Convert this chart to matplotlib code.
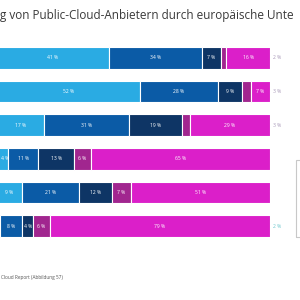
import numpy as np
import matplotlib
matplotlib.use('Agg')
import matplotlib.pyplot as plt
from matplotlib.patches import Rectangle

plt.rcParams['font.family'] = ['Open Sans', 'DejaVu Sans']

# Anteile je Zeile (in %), von links nach rechts
cyan = [41, 52, 17, 4, 9, 1]
blue = [34, 28, 31, 11, 21, 8]
navy = [7, 9, 19, 13, 12, 4]
purple = [2, 3, 3, 6, 7, 6]
magenta = [16, 7, 29, 65, 51, 79]
rest = [2, 3, 3, None, None, 2]   # Wert rechts neben dem Balken

series = [cyan, blue, navy, purple, magenta]
colors = ['#2aabe3', '#0b5ba6', '#0e3565', '#a1268f', '#db1fc9']
rest_colors = ['#a898b8', '#a898b8', '#a898b8', None, None, '#6cc6cc']

# sichtbarer Ausschnitt des Titels
title = 'g von Public-Cloud-Anbietern durch europäische Unte'
source = 'Cloud Report (Abbildung 57)'

fig = plt.figure(figsize=(3, 3), dpi=100)
W, H = 300, 300

# Achse in Pixeln: Balken laufen von x=-3 bis x=270, Zeilen 41..243
ax = fig.add_axes([-3 / W, 1 - 243 / H, 273 / W, 202 / H])

fig.canvas.draw()
r = fig.canvas.get_renderer()

data = np.array(series, dtype=float)
totals = data.sum(axis=0)
y = np.arange(len(cyan))
left = np.zeros(len(cyan))
ax.set_xlim(0, 100)
ax.set_ylim(len(cyan) - 0.5, -0.5)
px_per_unit = 273 / 100
for vals, col in zip(data, colors):
    w = vals / totals * 100
    ax.barh(y, w, left=left, height=0.65, color=col, edgecolor='white', linewidth=0.8)
    for yi, (l, wi, v) in enumerate(zip(left, w, vals)):
        if v >= 4:
            t = ax.text(l + wi / 2, yi, f'{int(v)} %', ha='center', va='center',
                        color='white', fontsize=3.6)
            # Beschriftung nicht über den linken Rand hinausragen lassen
            tw = t.get_window_extent(renderer=r).width
            min_x = (tw / 2 + 1) / px_per_unit + 3 / px_per_unit
            if t.get_position()[0] < min_x:
                t.set_x(min_x)
    left = left + w

for yi, (rv, c) in enumerate(zip(rest, rest_colors)):
    if rv is not None:
        ax.text(101.2, yi, f'{rv} %', ha='left', va='center', color=c, fontsize=3.6)

ax.axis('off')

# Titelgröße so wählen, dass der Ausschnitt die Breite füllt
t = fig.text(0.5 / W, 1 - 15 / H, title, fontsize=8, color='#3a3a3a',
             ha='left', va='center')
tw = t.get_window_extent(renderer=r).width
t.set_fontsize(8 * 298 / tw)

fig.text(1 / W, 1 - 277 / H, source, fontsize=3.4, color='#555555',
         ha='left', va='center')

# Legendenrahmen am rechten Rand (angeschnitten)
fig.patches.append(Rectangle((296 / W, 1 - 237 / H), 20 / W, 77 / H,
                             transform=fig.transFigure, fill=False,
                             edgecolor='#c8c8c8', linewidth=0.8))

fig.savefig('out.png', dpi=100)
